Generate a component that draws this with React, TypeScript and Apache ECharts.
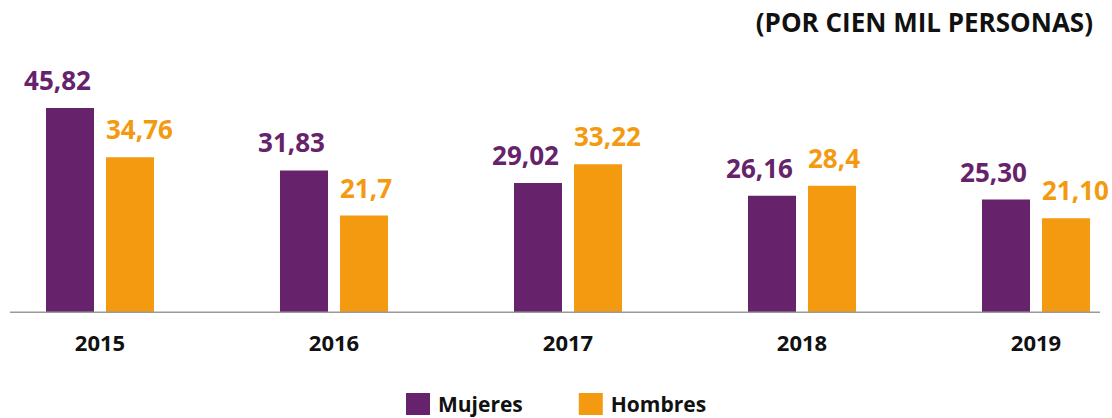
import React, { useEffect, useRef } from "react";
import * as echarts from "echarts";

const years = ["2015", "2016", "2017", "2018", "2019"];
const mujeres = [45.82, 31.83, 29.02, 26.16, 25.3];
const hombres = [34.76, 21.7, 33.22, 28.4, 21.1];
const mujeresLabels = ["45,82", "31,83", "29,02", "26,16", "25,30"];
const hombresLabels = ["34,76", "21,7", "33,22", "28,4", "21,10"];

const PURPLE = "#66236b";
const ORANGE = "#f39a10";
const FONT = "'Open Sans', sans-serif";

export default function App() {
  const ref = useRef<HTMLDivElement>(null);
  useEffect(() => {
    const chart = echarts.init(ref.current!, undefined, { renderer: "svg" });
    chart.setOption({
      animation: false,
      title: {
        text: "(POR CIEN MIL PERSONAS)",
        right: 14,
        top: 4,
        textStyle: { fontFamily: FONT, fontWeight: "bold", fontSize: 26, color: "#111" },
      },
      legend: {
        left: 401,
        top: 388,
        padding: 5,
        itemWidth: 24,
        itemHeight: 22,
        itemGap: 56,
        icon: "rect",
        textStyle: { fontFamily: FONT, fontWeight: "bold", fontSize: 21, lineHeight: 22, color: "#111", padding: [0, 0, 0, 3] },
        data: ["Mujeres", "Hombres"],
      },
      grid: { left: -17, width: 1170, top: 89.4, bottom: 105.7, containLabel: false, outerBoundsMode: "none" },
      xAxis: {
        type: "category",
        data: years,
        axisLine: { show: false },
        axisTick: { show: false },
        axisLabel: { margin: 19, fontFamily: FONT, fontWeight: "bold", fontSize: 22, color: "#111" },
      },
      yAxis: { type: "value", min: 0, max: 50, show: false, splitLine: { show: false } },
      graphic: [
        {
          type: "line",
          shape: { x1: 10, y1: 312.3, x2: 1100, y2: 312.3 },
          style: { stroke: "#9a9a9a", lineWidth: 1.5 },
          z: 10,
        },
      ],
      series: [
        {
          name: "Mujeres",
          type: "bar",
          data: mujeres,
          barWidth: 48,
          barGap: "25%",
          itemStyle: { color: PURPLE },
          label: {
            show: true,
            position: "top",
            align: "right",
            offset: [21, 0],
            distance: 15,
            fontFamily: FONT,
            fontWeight: "bold",
            fontSize: 26,
            color: PURPLE,
            formatter: (p: any) => mujeresLabels[p.dataIndex],
          },
        },
        {
          name: "Hombres",
          type: "bar",
          data: hombres,
          barWidth: 48,
          barGap: "25%",
          itemStyle: { color: ORANGE },
          label: {
            show: true,
            position: "top",
            align: "left",
            offset: [-24, 0],
            distance: 15,
            fontFamily: FONT,
            fontWeight: "bold",
            fontSize: 26,
            color: ORANGE,
            formatter: (p: any) => hombresLabels[p.dataIndex],
          },
        },
      ],
    });
    return () => chart.dispose();
  }, []);
  return (
    <div
      ref={ref}
      style={{ position: "absolute", left: 0, top: 0, width: 1112, height: 418, background: "#fff" }}
    />
  );
}
